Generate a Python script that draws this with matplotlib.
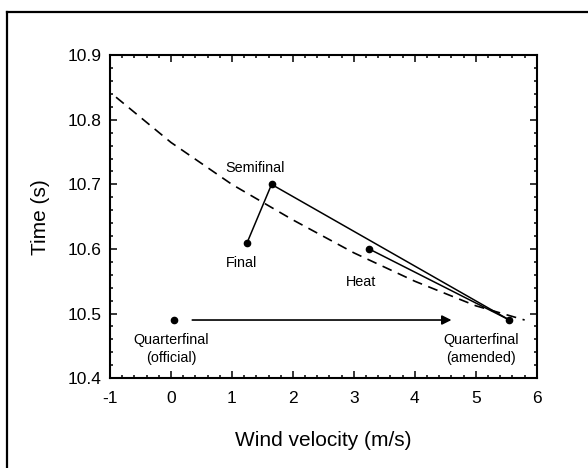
import matplotlib.pyplot as plt
from matplotlib.lines import Line2D
from matplotlib.ticker import MultipleLocator

plt.rcParams['font.family'] = ['Liberation Sans', 'DejaVu Sans']
plt.rcParams['axes.unicode_minus'] = False

# ---- DATA ----
race_names = ["Quarterfinal\n(official)", "Final", "Semifinal", "Heat", "Quarterfinal\n(amended)"]
race_wind = [0.05, 1.25, 1.65, 3.25, 5.55]
race_time = [10.49, 10.61, 10.70, 10.60, 10.49]

# wind-corrected equivalent curve (dashed)
curve_wind = [-0.9, 0.0, 1.0, 2.0, 3.0, 4.0, 5.0, 5.8]
curve_time = [10.835, 10.765, 10.70, 10.645, 10.594, 10.55, 10.512, 10.49]

# official -> amended wind reading
arrow_start = 0.35
arrow_end = 4.6

x_ticks = [-1, 0, 1, 2, 3, 4, 5, 6]
y_ticks = [10.4, 10.5, 10.6, 10.7, 10.8, 10.9]

fig = plt.figure(figsize=(5.88, 4.68), dpi=100)
ax = fig.add_axes([0.187, 0.192, 0.726, 0.690])

# ---- CURVE ----
ax.plot(curve_wind, curve_time, color="black", lw=1.2, ls=(0, (6, 4)))

# ---- CONNECTING LINES ----
final_i, semi_i, heat_i, amend_i = 1, 2, 3, 4
ax.plot([race_wind[final_i], race_wind[semi_i], race_wind[amend_i]],
        [race_time[final_i], race_time[semi_i], race_time[amend_i]],
        color="black", lw=1.1)
ax.plot([race_wind[heat_i], race_wind[amend_i]],
        [race_time[heat_i], race_time[amend_i]],
        color="black", lw=1.1)

# ---- POINTS ----
ax.plot(race_wind, race_time, "o", color="black", ms=4.5)

# ---- ARROW ----
ax.annotate("", xy=(arrow_end, race_time[0]), xytext=(arrow_start, race_time[0]),
            arrowprops=dict(arrowstyle="-|>", color="black", lw=1.2,
                            mutation_scale=14, shrinkA=0, shrinkB=0))

# ---- LABELS ----
lab_kw = dict(fontsize=10.4, ha="center", va="center", color="black")
ax.text(0.0, 10.445, race_names[0], linespacing=1.3, **lab_kw)
ax.text(1.15, 10.578, race_names[1], **lab_kw)
ax.text(1.38, 10.726, race_names[2], **lab_kw)
ax.text(3.12, 10.549, race_names[3], **lab_kw)
ax.text(5.09, 10.445, race_names[4], linespacing=1.3, **lab_kw)

# ---- AXES ----
ax.set_xlim(-1, 6)
ax.set_ylim(10.4, 10.9)
ax.set_xticks(x_ticks)
ax.set_yticks(y_ticks)
ax.set_xticklabels([str(v) for v in x_ticks])
ax.set_yticklabels([f"{v:.1f}" for v in y_ticks])
ax.xaxis.set_minor_locator(MultipleLocator(0.2))
ax.yaxis.set_minor_locator(MultipleLocator(0.02))
ax.tick_params(which="both", direction="in", top=True, right=True, labelsize=12.5, width=1.1)
ax.tick_params(which="major", length=5)
ax.tick_params(axis="x", which="major", pad=9)
ax.tick_params(axis="y", which="major", pad=6)
ax.tick_params(which="minor", length=2.5)
for s in ax.spines.values():
    s.set_linewidth(1.5)

ax.set_xlabel("Wind velocity (m/s)", fontsize=15, labelpad=18)
ax.set_ylabel("Time (s)", fontsize=15, labelpad=13)

# outer frame (left and top edges visible in the reference)
fig.add_artist(Line2D([0.012, 0.012], [0.0, 0.974], color="black", lw=1.6))
fig.add_artist(Line2D([0.012, 1.0], [0.974, 0.974], color="black", lw=1.6))

fig.savefig("out.png", dpi=100)
plt.close(fig)
